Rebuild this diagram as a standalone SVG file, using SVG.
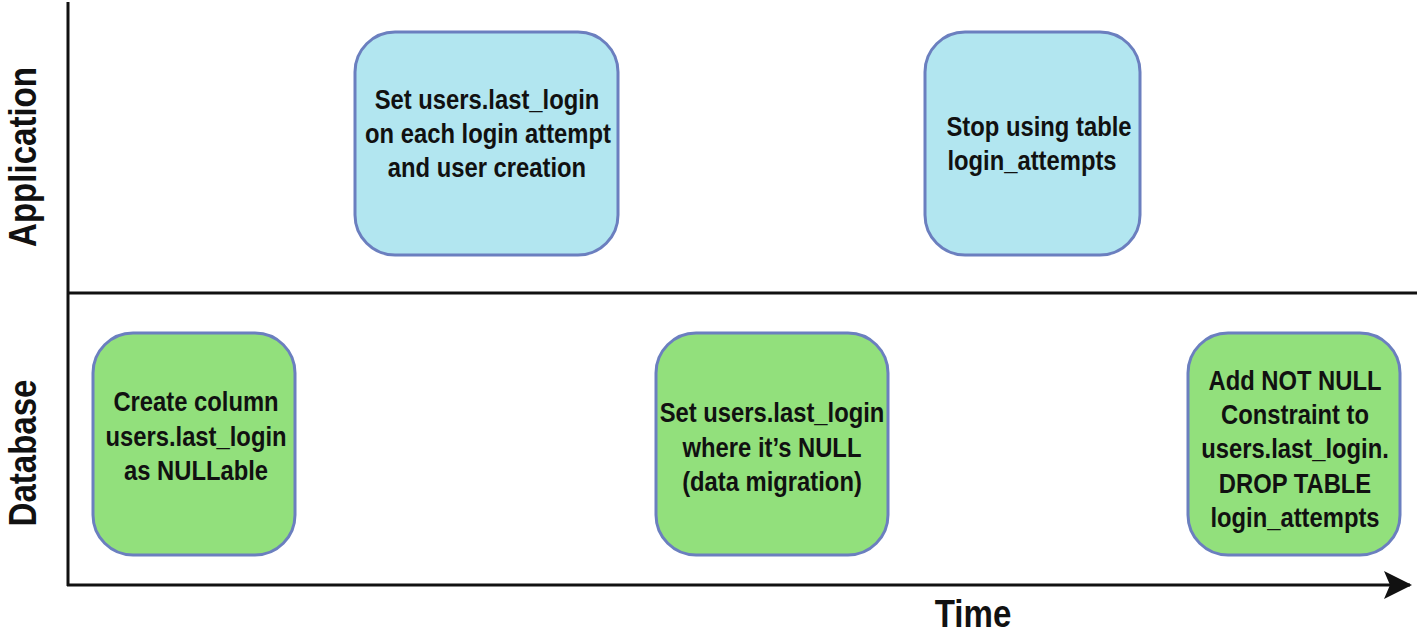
<svg xmlns="http://www.w3.org/2000/svg" width="1417" height="638" viewBox="0 0 1417 638">
<defs>
<style>
.app{fill:#b2e6f0;stroke:#6b7fbf;stroke-width:3}
.db{fill:#92e07c;stroke:#6b7fbf;stroke-width:3}
.t{font-family:"Liberation Sans",Arial,sans-serif;font-size:28px;font-weight:bold;fill:#111;text-anchor:middle}
.lbl{font-family:"Liberation Sans",Arial,sans-serif;font-size:38px;font-weight:bold;fill:#111;text-anchor:middle}
.ax{stroke:#111;stroke-width:3;fill:none}
</style>
<marker id="arr" viewBox="0 0 28 28" refX="26" refY="14" markerWidth="28" markerHeight="28" markerUnits="userSpaceOnUse" orient="auto">
<path d="M0,0 L28,14 L0,28 L6,14 Z" fill="#111"/>
</marker>
</defs>
<rect width="1417" height="638" fill="#fff"/>
<g id="connectors">
<line class="ax" x1="68" y1="2" x2="68" y2="586"/>
<line class="ax" x1="68" y1="293" x2="1417" y2="293"/>
<line class="ax" x1="67" y1="585" x2="1410" y2="585" marker-end="url(#arr)"/>
</g>
<g id="labels">
<text class="lbl" transform="translate(36,157) rotate(-90) scale(0.87,1)">Application</text>
<text class="lbl" transform="translate(36,453) rotate(-90) scale(0.87,1)">Database</text>
<text class="lbl" transform="translate(973,627) scale(0.87,1)">Time</text>
</g>
<g id="app1">
<rect class="app" x="355" y="32" width="263" height="223" rx="40"/>
<text class="t" transform="translate(487,109) scale(0.85,1)">Set users.last_login</text>
<text class="t" transform="translate(488,143) scale(0.85,1)">on each login attempt</text>
<text class="t" transform="translate(487,177) scale(0.85,1)">and user creation</text>
</g>
<g id="app2">
<rect class="app" x="925" y="32" width="215" height="223" rx="40"/>
<text class="t" transform="translate(1039,136) scale(0.85,1)">Stop using table</text>
<text class="t" transform="translate(1032,170) scale(0.85,1)">login_attempts</text>
</g>
<g id="db1">
<rect class="db" x="93" y="333" width="202" height="222" rx="40"/>
<text class="t" transform="translate(196,411) scale(0.85,1)">Create column</text>
<text class="t" transform="translate(196,446) scale(0.85,1)">users.last_login</text>
<text class="t" transform="translate(196,480) scale(0.85,1)">as NULLable</text>
</g>
<g id="db2">
<rect class="db" x="656" y="333" width="232" height="222" rx="40"/>
<text class="t" transform="translate(772,422) scale(0.85,1)">Set users.last_login</text>
<text class="t" transform="translate(772,457) scale(0.85,1)">where it’s NULL</text>
<text class="t" transform="translate(772,491) scale(0.85,1)">(data migration)</text>
</g>
<g id="db3">
<rect class="db" x="1188" y="333" width="212" height="222" rx="40"/>
<text class="t" transform="translate(1295,390) scale(0.85,1)">Add NOT NULL</text>
<text class="t" transform="translate(1295,424) scale(0.85,1)">Constraint to</text>
<text class="t" transform="translate(1295,458) scale(0.85,1)">users.last_login.</text>
<text class="t" transform="translate(1295,493) scale(0.85,1)">DROP TABLE</text>
<text class="t" transform="translate(1295,527) scale(0.85,1)">login_attempts</text>
</g>
</svg>
